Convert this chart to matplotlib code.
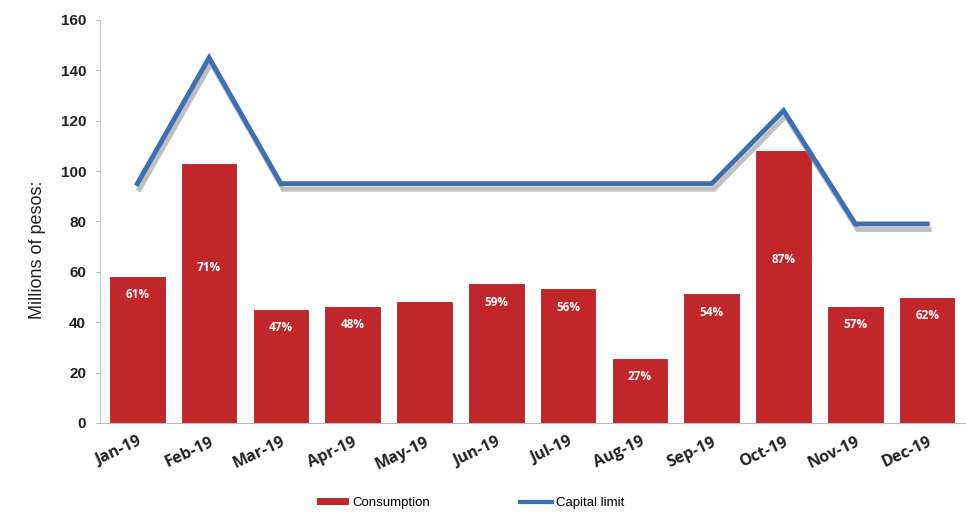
import numpy as np
import matplotlib.pyplot as plt
import matplotlib.patheffects as pe
from matplotlib.patches import Patch
from matplotlib.lines import Line2D

months = ['Jan-19', 'Feb-19', 'Mar-19', 'Apr-19', 'May-19', 'Jun-19',
          'Jul-19', 'Aug-19', 'Sep-19', 'Oct-19', 'Nov-19', 'Dec-19']
consumption = [58, 103, 45, 46, 48, 55, 53, 25.5, 51, 108, 46, 49.5]
capital_limit = [95, 145, 95, 95, 95, 95, 95, 95, 95, 124, 79, 79]
pct_labels = ['61%', '71%', '47%', '48%', '', '59%', '56%', '27%', '54%', '87%', '57%', '62%']

plt.rcParams['font.family'] = ['Liberation Sans', 'DejaVu Sans']

fig = plt.figure(figsize=(9.66, 5.12), dpi=100)
ax = fig.add_axes([0.1035, 0.174, 0.895, 0.787])

x = np.arange(len(months))
bars = ax.bar(x, consumption, width=0.76, color='#c1262b', edgecolor='#b02024',
              linewidth=0.6, zorder=2)

# percentage labels sit just under the bar top (lower on the tall bars)
for xi, v, lab in zip(x, consumption, pct_labels):
    if not lab:
        continue
    y = v - 7 if v < 80 else v * 0.6
    ax.text(xi, y, lab, ha='center', va='center', color='white',
            fontsize=8.5, fontweight='bold', family=['Open Sans', 'DejaVu Sans'],
            zorder=4)

ax.plot(x, capital_limit, color='#3c6fb4', linewidth=3.5, zorder=3,
        solid_joinstyle='miter',
        path_effects=[pe.SimpleLineShadow(offset=(1.5, -4), shadow_color='#808080', alpha=0.5),
                      pe.Normal()])

ax.set_xlim(-0.52, len(months) - 0.48)
ax.set_ylim(0, 160)
ax.set_yticks(range(0, 161, 20))
ax.set_xticks(x)
ax.set_xticklabels(months, rotation=25, ha='right', rotation_mode='anchor',
                   fontsize=11.5, fontweight='bold', color='#222222',
                   family=['Open Sans', 'DejaVu Sans'])
for t in ax.get_yticklabels():
    t.set_fontweight('bold')
    t.set_fontsize(11)
    t.set_color('#222222')
ax.tick_params(axis='y', length=3, color='#bbbbbb', pad=7)
ax.tick_params(axis='x', length=0, pad=8)

for s in ['top', 'right']:
    ax.spines[s].set_visible(False)
ax.spines['left'].set_color('#cccccc')
ax.spines['bottom'].set_color('#bbbbbb')

ax.set_ylabel('Millions of pesos:', fontsize=13, color='#222222')
ax.yaxis.set_label_coords(-0.062, 0.43)

handles = [Patch(facecolor='#c1262b', edgecolor='none', label='Consumption'),
           Line2D([0], [0], color='#3c6fb4', linewidth=3, label='Capital limit')]
fig.legend(handles=handles, loc='lower center', bbox_to_anchor=(0.487, -0.018),
           ncol=2, frameon=False, fontsize=9.5, columnspacing=6.8,
           handlelength=2.4, handleheight=0.45, handletextpad=0.3)

fig.savefig('out.png', dpi=100)
